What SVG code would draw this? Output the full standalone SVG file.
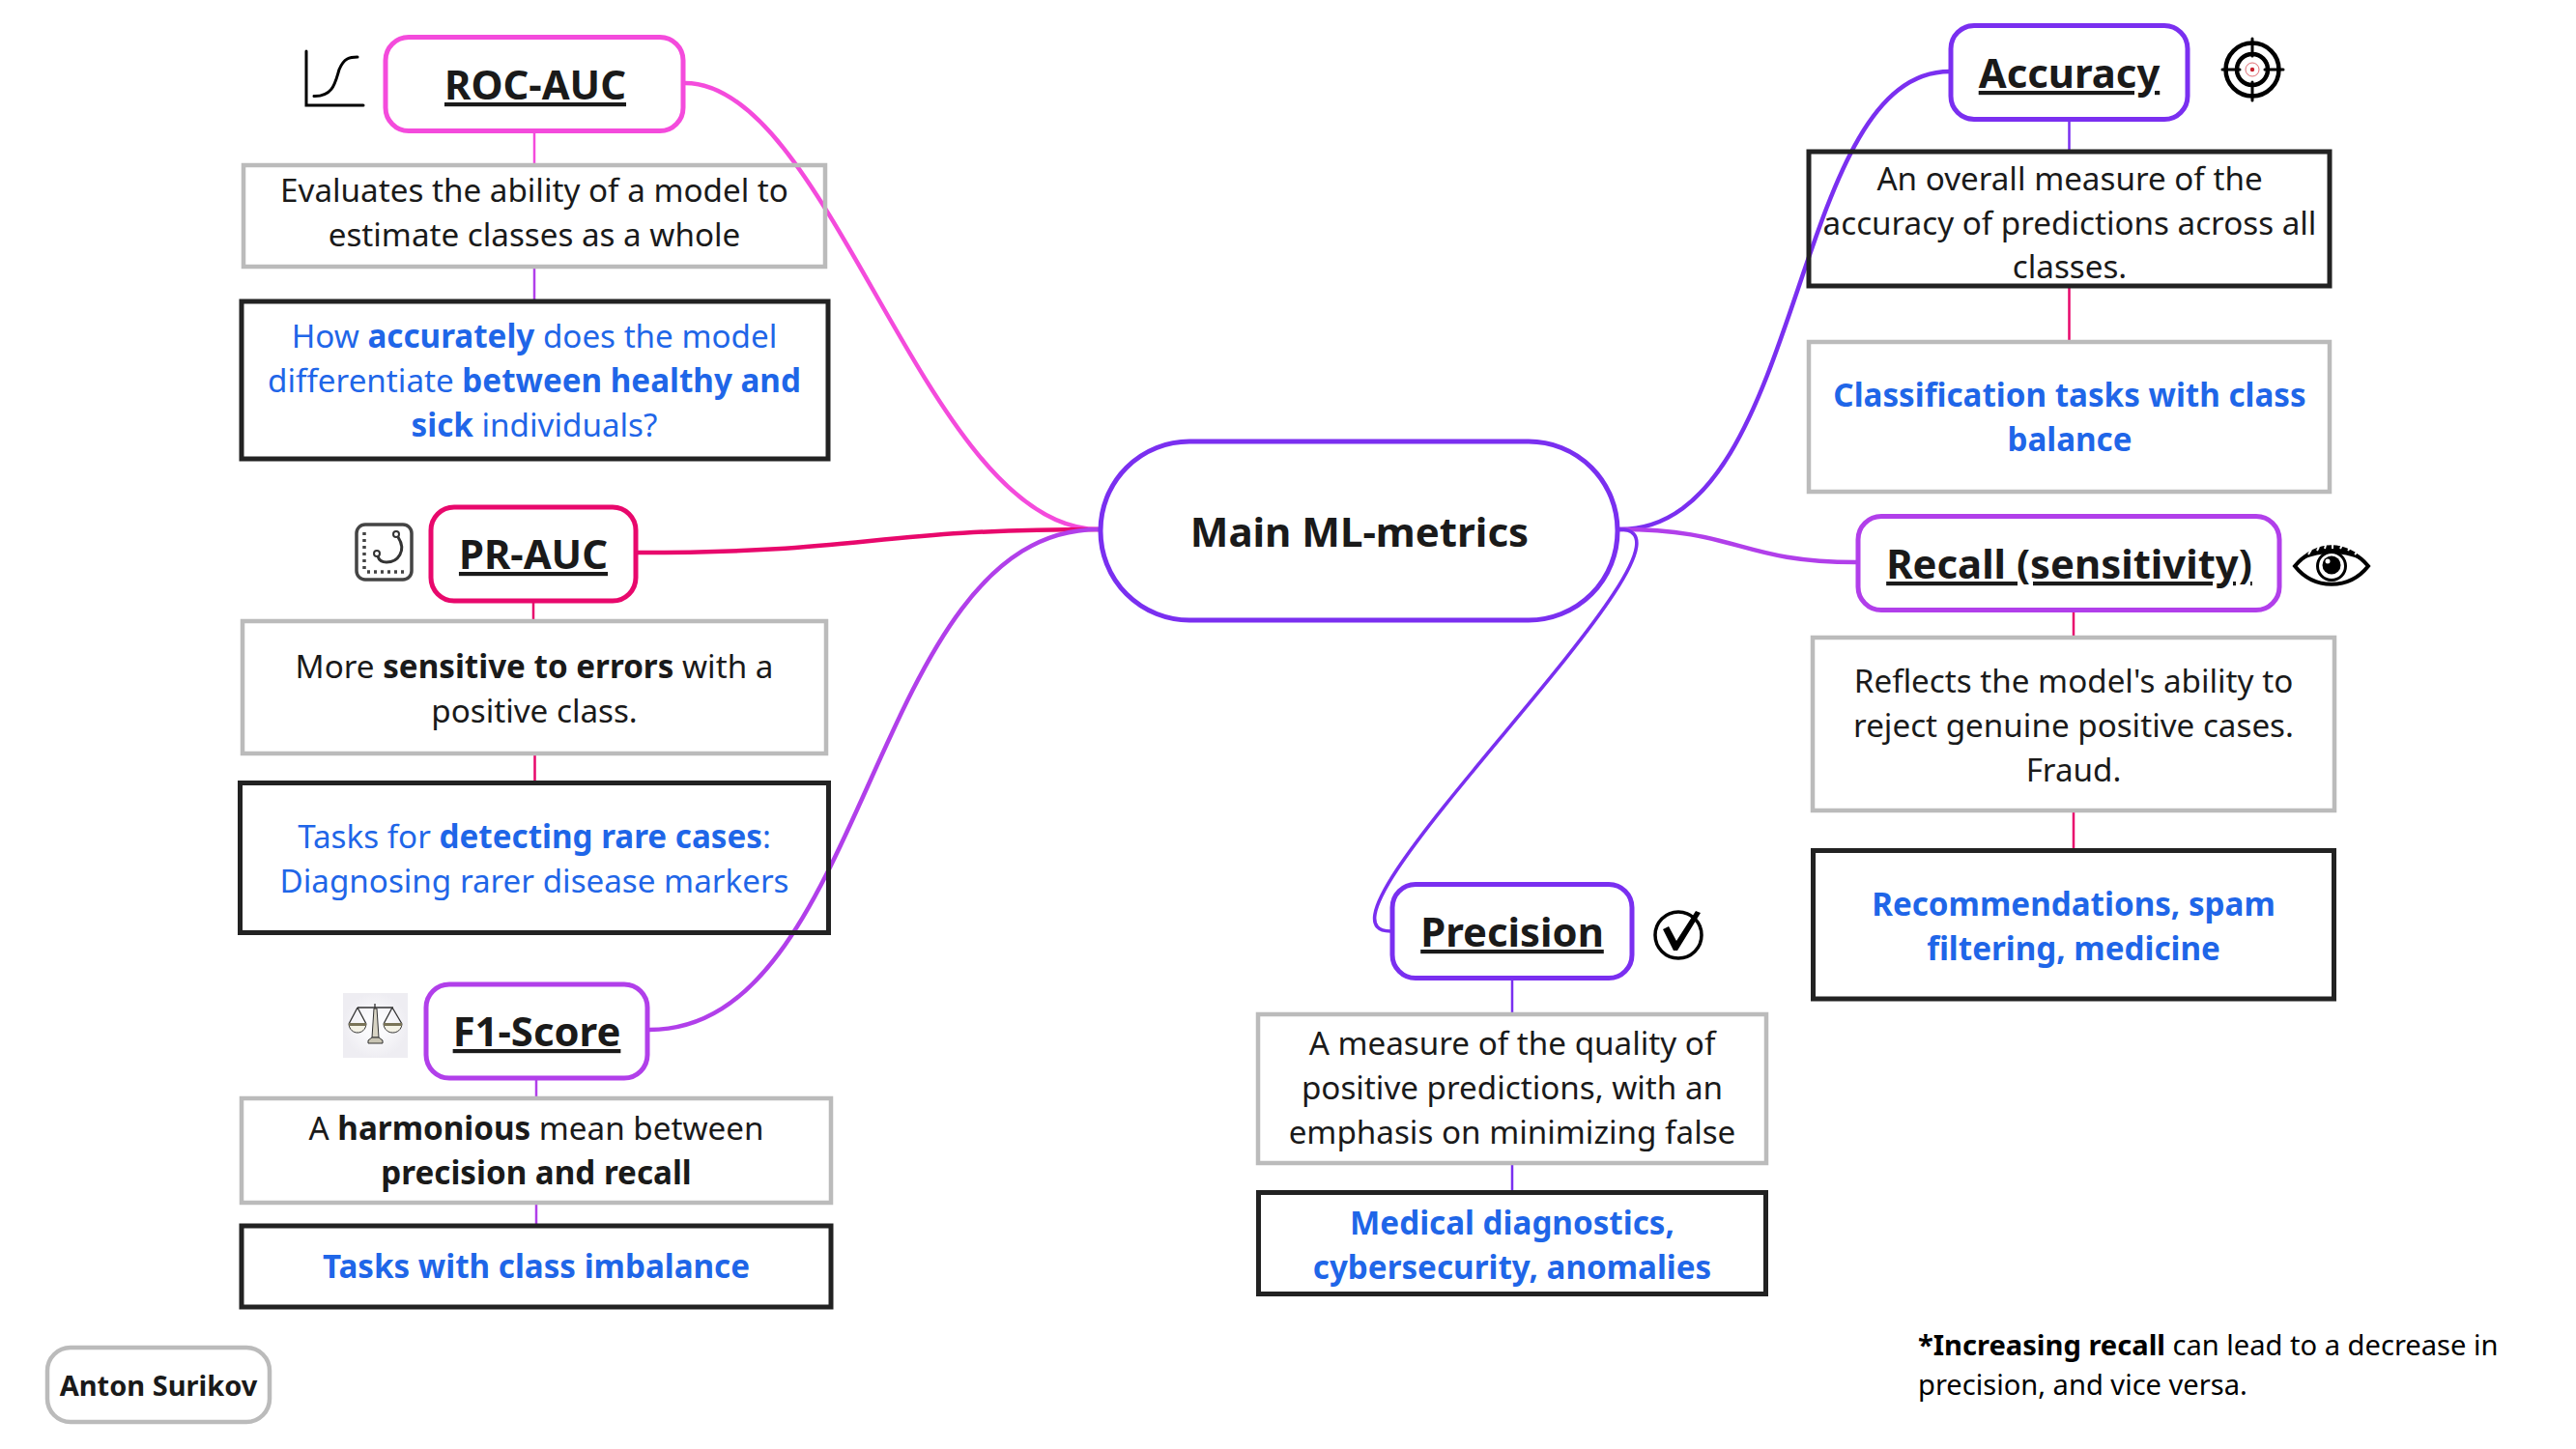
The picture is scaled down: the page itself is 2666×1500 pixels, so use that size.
<svg xmlns="http://www.w3.org/2000/svg" width="2666" height="1500" viewBox="0 0 2666 1500">
<style>
text{font-family:"Noto Sans","Open Sans","DejaVu Sans",sans-serif;text-anchor:middle;fill:#1a1a1a;font-size:33.200px}
.t{font-size:41.800px;font-weight:700;text-decoration:underline}
.b{font-weight:700}
.blue{fill:#1f66e8}
.head{fill:#fff;stroke-width:5}
.grey{fill:none;stroke:#bbb;stroke-width:4.500}
.black{fill:none;stroke:#222;stroke-width:5}
.curve{fill:none;stroke-width:4.500;stroke-linecap:round}
.stub{fill:none;stroke-width:2.500}
.pink{stroke:#f44bdc}.rose{stroke:#e8086c}.violet{stroke:#b13fea}.indigo{stroke:#7a2ff0}
.ic{fill:none;stroke:#000;stroke-linecap:round}
</style>
<defs>
<radialGradient id="sb"><stop offset="0.3" stop-color="#fbfbfd"/><stop offset="1" stop-color="#eeedf2"/></radialGradient>
</defs>
<rect width="2666" height="1500" fill="#fff"/>
<g id="connectors">
<path class="curve pink" d="M709 86C860 86 960 548 1137 548"/>
<path class="curve rose" d="M660 572C900 572 900 548 1137 548"/>
<path class="curve violet" d="M672 1066C900 1066 900 548 1137 548"/>
<path class="curve indigo" d="M1676 548C1870 548 1850 74 2018 74"/>
<path class="curve violet" d="M1676 548C1800 548 1800 582 1921 582"/>
<path class="curve indigo" style="stroke-width:3.600" d="M1676 548C1788 548 1332 964 1439 964"/>
<path class="stub pink" d="M553 136V170"/>
<path class="stub violet" d="M553 278V312"/>
<path class="stub rose" d="M552 622V642M553.500 782V810"/>
<path class="stub violet" d="M555 1116V1136M555 1247V1268"/>
<path class="stub indigo" d="M2141.500 124V156"/>
<path class="stub rose" d="M2141.500 298V353M2146 632V659M2146 841V879"/>
<path class="stub indigo" d="M1565 1013V1049M1565 1206V1233"/>
</g>
<g id="main"><rect class="head indigo" x="1139" y="457" width="535" height="185" rx="92"/><text class="b" x="1407" y="565.500" style="font-size:42px">Main ML-metrics</text></g>
<g id="roc-auc"><rect class="head pink" x="399" y="38.500" width="308" height="97" rx="24"/><text class="t" x="554" y="103">ROC-AUC</text></g>
<g id="roc-icon"><path class="ic" stroke-width="3" stroke-linecap="butt" d="M317 53V109H376"/><path class="ic" stroke-width="3" d="M325 99.500C345 100 347 85 351 72C356 60 362 59 370 59"/></g>
<g id="roc-desc"><rect class="grey" x="252" y="171" width="602" height="105"/><text x="553" y="209">Evaluates the ability of a model to</text><text x="553" y="255">estimate classes as a whole</text></g>
<g id="roc-use"><rect class="black" x="250" y="312" width="607" height="163"/><text class="blue" x="553" y="360">How <tspan class="b">accurately</tspan> does the model</text><text class="blue" x="553" y="406">differentiate <tspan class="b">between healthy and</tspan></text><text class="blue" x="553" y="452"><tspan class="b">sick</tspan> individuals?</text></g>
<g id="pr-auc"><rect class="head rose" x="446" y="525" width="212" height="97" rx="24"/><text class="t" x="552" y="589">PR-AUC</text></g>
<g id="pr-icon"><rect x="369" y="543" width="57" height="57" rx="9" fill="none" stroke="#444" stroke-width="3.500"/><path d="M377 551V590M380 592H418" fill="none" stroke="#444" stroke-width="3.500" stroke-dasharray="3 4"/><path d="M412 556C421 570 412 582 400 582C395 582 392 579 391 576" fill="none" stroke="#333" stroke-width="3"/><circle cx="410" cy="553" r="3" fill="none" stroke="#333" stroke-width="2"/><circle cx="390" cy="573" r="3" fill="none" stroke="#333" stroke-width="2"/></g>
<g id="pr-desc"><rect class="grey" x="251" y="643" width="604" height="137"/><text x="553" y="701.500">More <tspan class="b">sensitive to errors</tspan> with a</text><text x="553" y="747.500">positive class.</text></g>
<g id="pr-use"><rect class="black" x="248.500" y="810.500" width="609" height="155"/><text class="blue" x="553" y="877.500">Tasks for <tspan class="b">detecting rare cases</tspan>:</text><text class="blue" x="553" y="923.500">Diagnosing rarer disease markers</text></g>
<g id="f1-score"><rect class="head violet" x="441" y="1019" width="229" height="97" rx="24"/><text class="t" x="555.500" y="1083">F1-Score</text></g>
<g id="f1-icon"><rect x="355" y="1028" width="67" height="67" fill="url(#sb)"/><path d="M370 1043H407M388 1039V1072M370 1043L361 1060M370 1043L379 1060M406 1043L397 1060M406 1043L416 1060" fill="none" stroke="#333" stroke-width="1.300"/><path d="M385 1074L387 1044H390L392 1074Z" fill="#d8d4c4" stroke="#333" stroke-width="1"/><path d="M381 1080H396V1077L392 1074H385L381 1077Z" fill="#c9c5b4" stroke="#333" stroke-width="1"/><path d="M361 1060H379C378 1072 362 1072 361 1060ZM397 1060H416C415 1072 398 1072 397 1060Z" fill="#f4f2e6" stroke="#333" stroke-width="1"/><path d="M361 1060.500H379M397 1060.500H416" stroke="#7a7458" stroke-width="3"/></g>
<g id="f1-desc"><rect class="grey" x="250" y="1137" width="610" height="108"/><text x="555" y="1180">A <tspan class="b">harmonious</tspan> mean between</text><text class="b" x="555" y="1226">precision and recall</text></g>
<g id="f1-use"><rect class="black" x="250" y="1269" width="610" height="84"/><text class="blue b" x="555" y="1323">Tasks with class imbalance</text></g>
<g id="author"><rect x="49" y="1395" width="230" height="77" rx="24" fill="#fff" stroke="#bbb" stroke-width="4.500"/><text class="b" x="164" y="1445" style="font-size:29px">Anton Surikov</text></g>
<g id="accuracy"><rect class="head indigo" x="2019" y="26.500" width="245" height="97" rx="24"/><text class="t" x="2141.500" y="91">Accuracy</text></g>
<g id="accuracy-icon"><circle class="ic" cx="2331" cy="72" r="27.500" stroke-width="4.500"/><circle class="ic" cx="2331" cy="72" r="16" stroke-width="4.500"/><path class="ic" stroke-width="3" stroke-linecap="butt" d="M2300 72H2318M2344 72H2363M2331 40V58M2331 85V104"/><circle cx="2331" cy="72" r="7" fill="none" stroke="#d8474f" stroke-width="0.800"/><circle cx="2331" cy="72" r="2.200" fill="#c8202c"/></g>
<g id="accuracy-desc"><rect class="black" x="1872" y="157" width="539" height="139"/><text x="2142" y="197">An overall measure of the</text><text x="2142" y="243">accuracy of predictions across all</text><text x="2142" y="288">classes.</text></g>
<g id="accuracy-use"><rect class="grey" x="1872" y="354" width="539" height="155"/><text class="blue b" x="2142" y="421">Classification tasks with class</text><text class="blue b" x="2142" y="467">balance</text></g>
<g id="recall"><rect class="head violet" x="1923" y="534.500" width="436" height="97" rx="24"/><text class="t" x="2141.500" y="599">Recall (sensitivity)</text></g>
<g id="recall-icon"><path d="M2375 586C2395 562 2431 562 2451 586C2431 611 2395 611 2375 586Z" fill="none" stroke="#000" stroke-width="4"/><path d="M2377 583C2395 558 2431 558 2449 583C2431 570 2395 570 2377 583Z" fill="#000"/><path d="M2389 574L2392 569M2398 570L2400 566M2406 568L2407 564M2414 568L2414 564M2422 568L2424 564M2430 570L2433 566M2437 574L2441 570" stroke="#fff" stroke-width="2"/><circle cx="2413" cy="586" r="14.500" fill="#fff" stroke="#000" stroke-width="3"/><circle cx="2413" cy="585" r="9.500" fill="#000"/><circle cx="2409" cy="581" r="2.500" fill="#fff"/></g>
<g id="recall-desc"><rect class="grey" x="1876" y="660" width="540" height="179"/><text x="2146" y="717">Reflects the model's ability to</text><text x="2146" y="763">reject genuine positive cases.</text><text x="2146" y="809">Fraud.</text></g>
<g id="recall-use"><rect class="black" x="1876.500" y="880.500" width="539" height="153.500"/><text class="blue b" x="2146" y="947.500">Recommendations, spam</text><text class="blue b" x="2146" y="993.500">filtering, medicine</text></g>
<g id="precision"><rect class="head indigo" x="1441" y="915.500" width="248" height="97" rx="24"/><text class="t" x="1565" y="980">Precision</text></g>
<g id="precision-icon"><circle class="ic" cx="1737" cy="968" r="24" stroke-width="3.500"/><path d="M1721 962L1727 959L1735 974L1755 943L1760 945L1736 984L1732 984Z" fill="#000"/></g>
<g id="precision-desc"><rect class="grey" x="1302" y="1050" width="526" height="154"/><text x="1565" y="1091.500">A measure of the quality of</text><text x="1565" y="1137.500">positive predictions, with an</text><text x="1565" y="1183.500">emphasis on minimizing false</text></g>
<g id="precision-use"><rect class="black" x="1302.500" y="1234.500" width="525" height="105"/><text class="blue b" x="1565" y="1277.500">Medical diagnostics,</text><text class="blue b" x="1565" y="1323.500">cybersecurity, anomalies</text></g>
<g id="note"><text x="1985" y="1402.500" style="text-anchor:start;fill:#000;font-size:29.100px"><tspan class="b">*Increasing recall</tspan> can lead to a decrease in</text><text x="1985" y="1443.500" style="text-anchor:start;fill:#000;font-size:29.100px">precision, and vice versa.</text></g>
</svg>
